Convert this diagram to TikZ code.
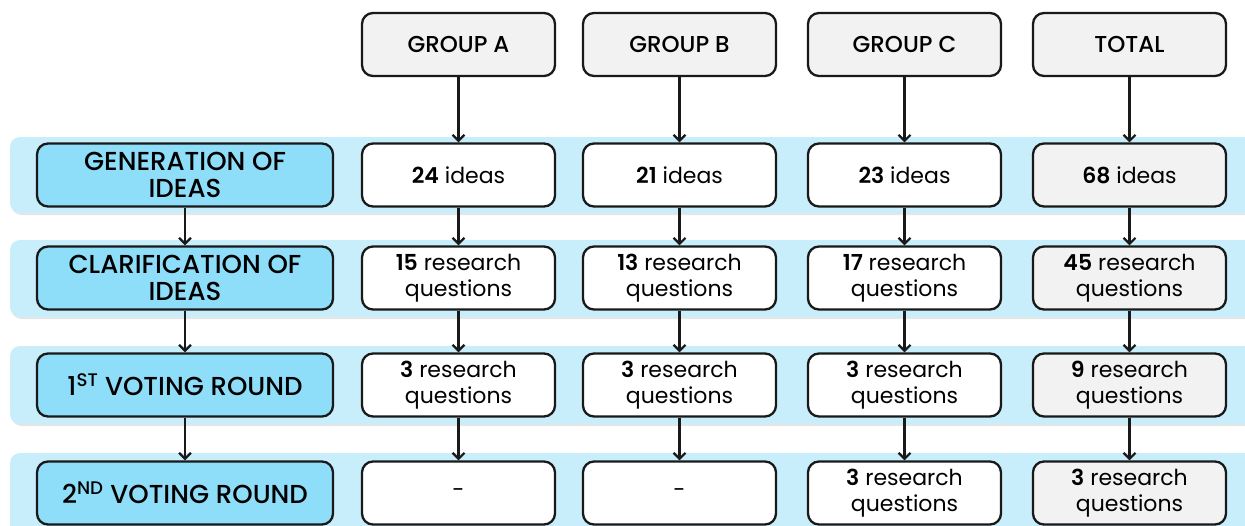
\documentclass[tikz,border=0pt]{standalone}
\usepackage{fontspec}
\setmainfont{Poppins Medium}[BoldFont={Poppins SemiBold}]
\newfontfamily\cellfont{Poppins}[BoldFont={Poppins SemiBold}]
\usetikzlibrary{positioning,arrows.meta,shadows}
\definecolor{bandblue}{HTML}{C8EEFB}
\definecolor{stageblue}{HTML}{8EDDF9}
\definecolor{boxgray}{HTML}{F2F2F2}
\newcommand{\resq}[1]{\textbf{#1} research\\questions}

\begin{document}
\begin{tikzpicture}[x=1pt,y=-1pt]
\tikzstyle{band}=[rounded corners=10pt, fill=bandblue, drop shadow={opacity=0.2, shadow xshift=1.5pt, shadow yshift=-2pt}]
\tikzstyle{cell}=[rectangle, rounded corners=11pt, line width=2.3pt, draw=black!90, fill=white, minimum width=193pt, minimum height=63pt, inner sep=0pt, align=center, font=\cellfont\fontsize{22}{26}\selectfont]
\tikzstyle{head}=[cell, fill=boxgray, font=\fontsize{23}{26}\selectfont]
\tikzstyle{total}=[cell, fill=boxgray]
\tikzstyle{stage}=[cell, fill=stageblue, minimum width=296pt, font=\fontsize{26}{27}\selectfont]
\tikzstyle{connect}=[-{Straight Barb[length=6pt,width=12pt]}, line width=2.2pt, black!90]
\clip (0,0) rectangle (1245,525);
\useasboundingbox (0,0) rectangle (1245,525);
% background bands
	\fill[band] (10,137) rectangle (1265,213);
	\fill[band] (10,240) rectangle (1265,317);
	\fill[band] (10,346) rectangle (1265,424);
	\fill[band] (10,453) rectangle (1265,545);
% column heads
	\node[head] (h_a) at (458.5,44.5) {GROUP A};
	\node[head] (h_b) at (679.5,44.5) {GROUP B};
	\node[head] (h_c) at (904.5,44.5) {GROUP C};
	\node[head] (h_t) at (1129.5,44.5) {TOTAL};
% stages
	\node[stage] (s_1) at (185,175) {GENERATION OF\\IDEAS};
	\node[stage] (s_2) at (185,278) {CLARIFICATION OF\\IDEAS};
	\node[stage] (s_3) at (185,385) {1\textsuperscript{ST} VOTING ROUND};
	\node[stage] (s_4) at (185,493) {2\textsuperscript{ND} VOTING ROUND};
% results
	\node[cell] (a_1) at (458.5,175) {\textbf{24} ideas};
	\node[cell] (b_1) at (679.5,175) {\textbf{21} ideas};
	\node[cell] (c_1) at (904.5,175) {\textbf{23} ideas};
	\node[total] (t_1) at (1129.5,175) {\textbf{68} ideas};
	\node[cell] (a_2) at (458.5,278) {\resq{15}};
	\node[cell] (b_2) at (679.5,278) {\resq{13}};
	\node[cell] (c_2) at (904.5,278) {\resq{17}};
	\node[total] (t_2) at (1129.5,278) {\resq{45}};
	\node[cell] (a_3) at (458.5,385) {\resq{3}};
	\node[cell] (b_3) at (679.5,385) {\resq{3}};
	\node[cell] (c_3) at (904.5,385) {\resq{3}};
	\node[total] (t_3) at (1129.5,385) {\resq{9}};
	\node[cell] (a_4) at (458.5,493) {-};
	\node[cell] (b_4) at (679.5,493) {-};
	\node[cell] (c_4) at (904.5,493) {\resq{3}};
	\node[total] (t_4) at (1129.5,493) {\resq{3}};

	\path[connect]
		(s_1) edge (s_2)
		(s_2) edge (s_3)
		(s_3) edge (s_4)
		(h_a) edge (a_1)
		(a_1) edge (a_2)
		(a_2) edge (a_3)
		(a_3) edge (a_4)
		(h_b) edge (b_1)
		(b_1) edge (b_2)
		(b_2) edge (b_3)
		(b_3) edge (b_4)
		(h_c) edge (c_1)
		(c_1) edge (c_2)
		(c_2) edge (c_3)
		(c_3) edge (c_4)
		(h_t) edge (t_1)
		(t_1) edge (t_2)
		(t_2) edge (t_3)
		(t_3) edge (t_4);

\end{tikzpicture}
\end{document}
